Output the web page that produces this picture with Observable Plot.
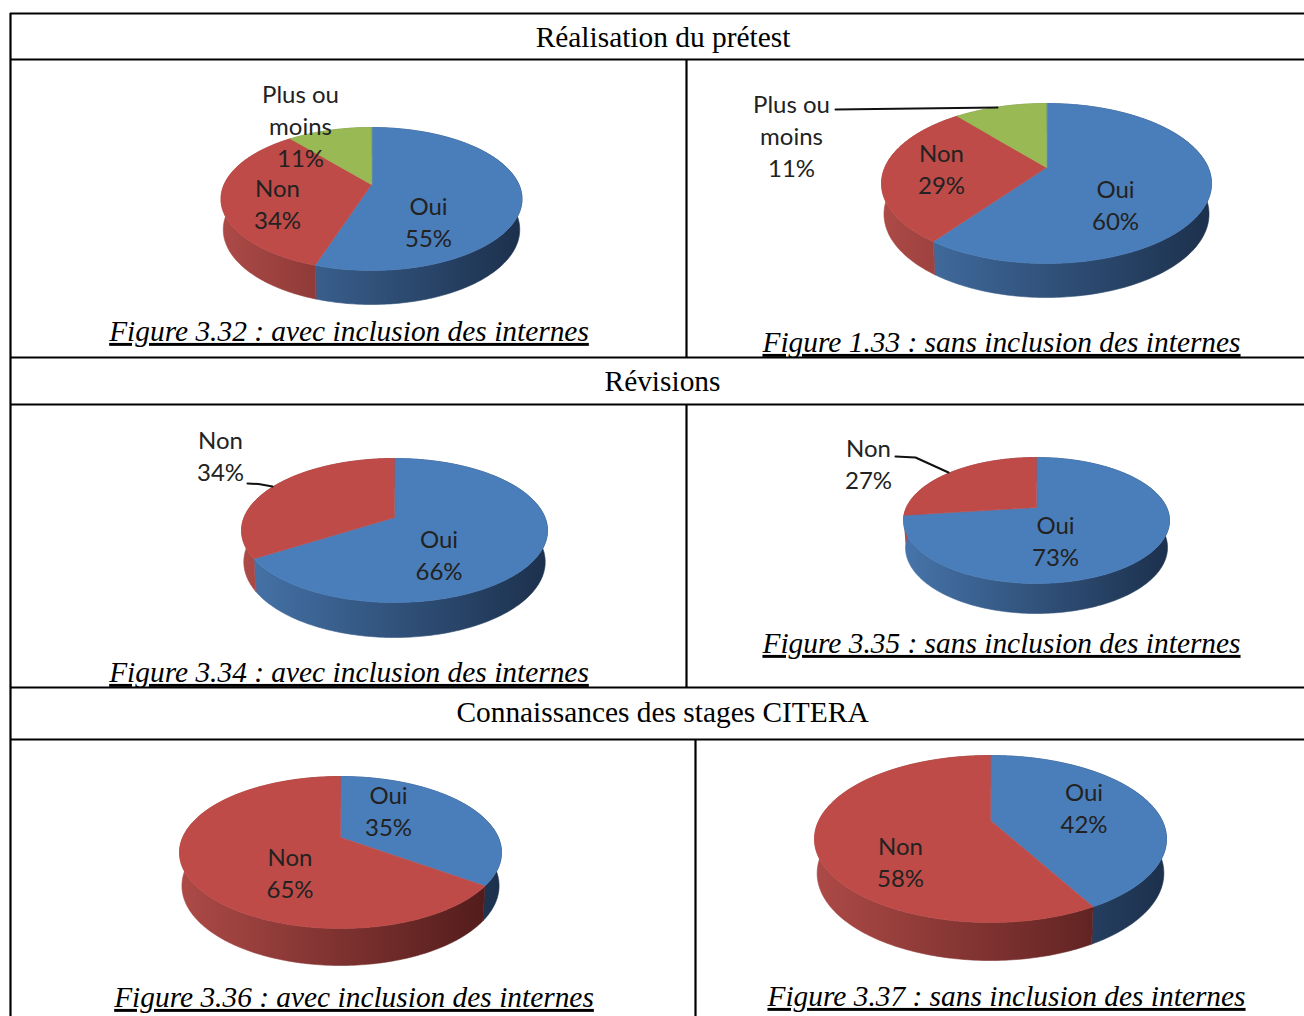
<!DOCTYPE html>
<html lang="fr">
<head>
<meta charset="utf-8">
<script src="https://cdn.jsdelivr.net/npm/d3@7"></script>
<script src="https://cdn.jsdelivr.net/npm/@observablehq/plot@0.6"></script>
<style>
html,body{margin:0;padding:0;background:#fff}
svg{display:block}
.caption text{text-decoration:underline}
</style>
</head>
<body>
<div id="chart"></div>
<script>
// ---- data ----
const sections = ["Réalisation du prétest", "Révisions", "Connaissances des stages CITERA"];
const captions = [
  "Figure 3.32 : avec inclusion des internes",
  "Figure 1.33 : sans inclusion des internes",
  "Figure 3.34 : avec inclusion des internes",
  "Figure 3.35 : sans inclusion des internes",
  "Figure 3.36 : avec inclusion des internes",
  "Figure 3.37 : sans inclusion des internes"
];
const categories = ["Oui", "Non", "Plus ou\nmoins"];
const values = [
  [55, 34, 11],
  [60, 29, 11],
  [66, 34],
  [73, 27],
  [35, 65],
  [42, 58]
];

// ---- layout (not data) ----
const colors = ["#4a7ebb", "#be4b48", "#98b954"];
const wallLight = ["#4674aa", "#ad4a47", "#8aa84f"];
const wallDark = ["#1c304c", "#4e1a19", "#4c5c2a"];
const pies = [
  {cx: 370.5, ax: 371,  ay: 184, top: 127, bottom: 270, rx: 150.5, base: 304},
  {cx: 1046,  ax: 1046, ay: 167, top: 103, bottom: 263, rx: 165,   base: 297},
  {cx: 394,   ax: 394,  ay: 517, top: 458, bottom: 602, rx: 153,   base: 637},
  {cx: 1036,  ax: 1036, ay: 507, top: 457, bottom: 583, rx: 133,   base: 613},
  {cx: 340,   ax: 340,  ay: 837, top: 776, bottom: 928, rx: 161,   base: 965},
  {cx: 989,   ax: 990,  ay: 820, top: 755, bottom: 922, rx: 176,   base: 960}
];
// centre of each slice label, in the order of the values
const labelPos = [
  [[428, 220.5], [277, 202.5], [300, 124]],
  [[1115, 203.5], [941, 167.5], [791, 134]],
  [[438.5, 553.5], [220, 454.5]],
  [[1055, 539.5], [868, 462.5]],
  [[388, 809.5], [289.5, 871.5]],
  [[1083.5, 806.5], [900, 860.5]]
];
const captionPos = [[348.5, 331], [1001, 342], [348.5, 672], [1001, 643], [353.5, 997], [1006, 996]];
const sectionPos = [[662.5, 37], [662, 381], [662, 712]];
const hRules = [13, 59, 357, 404, 687, 739];
const vRules = [[10, 13, 1016], [686, 59, 357], [686, 404, 687], [695, 739, 1016]];
const leaders = [
  [[835, 109], [997, 107]],
  [[247, 483], [258, 483.5], [272, 486]],
  [[895, 456], [915, 457], [948, 472]]
];

// ---- perspective projection of a pie disc ----
function projector(p) {
  const a = p.ay - p.top, b = p.bottom - p.ay;
  const k = (b - a) / (b + a);
  const S = a * (1 + k), R = p.rx * Math.sqrt(1 - k * k);
  const df = p.base - p.bottom;
  const D = 0.88 * df, ky = 1 + 0.12 * df / b, kx = 0.985;
  const at = (t, lower) => {
    const u = Math.sin(t), v = -Math.cos(t), w = 1 - k * v;
    return lower
      ? {x: p.ax + kx * R * u / w, y: p.ay + D + ky * S * v / w}
      : {x: p.ax + R * u / w, y: p.ay + S * v / w};
  };
  return at;
}
const arcAngles = (t0, t1) => {
  const n = Math.max(2, Math.ceil((t1 - t0) / (Math.PI / 180)));
  return d3.range(n + 1).map((i) => t0 + (t1 - t0) * i / n);
};

const polygons = [[], []]; // walls, top faces
const gradients = [];
values.forEach((vals, pi) => {
  const p = pies[pi], at = projector(p);
  const arcs = d3.pie().sort(null)(vals);
  arcs.forEach((arc, si) => {
    const ts = arcAngles(arc.startAngle, arc.endAngle);
    const id = `wall-${pi}-${si}`;
    gradients.push({id, x1: p.cx - p.rx, x2: p.cx + p.rx, si});
    polygons[0].push({
      fill: `url(#${id})`,
      pts: [...ts.map((t) => at(t, false)), ...ts.slice().reverse().map((t) => at(t, true))]
    });
    polygons[1].push({
      fill: colors[si],
      pts: [{x: p.ax, y: p.ay}, ...ts.map((t) => at(t, false))]
    });
  });
});

const labels = values.flatMap((vals, pi) =>
  vals.map((v, si) => ({
    text: `${categories[si]}\n${v}%`,
    x: labelPos[pi][si][0],
    y: labelPos[pi][si][1]
  }))
);

const gradientDefs = () => {
  const defs = d3.create("svg:defs");
  gradients.forEach((g) => {
    const lg = defs.append("linearGradient")
      .attr("id", g.id).attr("gradientUnits", "userSpaceOnUse")
      .attr("x1", g.x1).attr("x2", g.x2).attr("y1", 0).attr("y2", 0);
    lg.append("stop").attr("offset", 0).attr("stop-color", wallLight[g.si]);
    lg.append("stop").attr("offset", 1).attr("stop-color", wallDark[g.si]);
  });
  return defs.node();
};

const poly = (d) => Plot.line(d.pts, {
  x: "x", y: "y", curve: "linear-closed", fill: d.fill, stroke: d.fill, strokeWidth: 0.6
});

const serif = "'Liberation Serif', 'Times New Roman', serif";
const sans = "Lato, Carlito, Calibri, sans-serif";

const chart = Plot.plot({
  width: 1304,
  height: 1016,
  margin: 0,
  style: {background: "#fff"},
  x: {domain: [0, 1304], range: [0, 1304], axis: null},
  y: {domain: [0, 1016], range: [0, 1016], axis: null},
  marks: [
    gradientDefs,
    ...polygons[0].map(poly),
    ...polygons[1].map(poly),
    ...leaders.map((l) => Plot.line(l, {x: (d) => d[0], y: (d) => d[1], stroke: "#111", strokeWidth: 2, curve: "linear"})),
    Plot.text(labels, {
      x: "x", y: "y", text: "text", fontFamily: sans, fontSize: 24, lineHeight: 1.34,
      fill: "#222", textAnchor: "middle"
    }),
    Plot.ruleY(hRules, {y: (d) => d, x1: 10, x2: 1304, stroke: "#000", strokeWidth: 2.2}),
    Plot.ruleX(vRules, {x: (d) => d[0], y1: (d) => d[1], y2: (d) => d[2], stroke: "#000", strokeWidth: 2.2}),
    Plot.text(sections, {
      x: (d, i) => sectionPos[i][0], y: (d, i) => sectionPos[i][1], text: (d) => d,
      fontFamily: serif, fontSize: 29.4, fill: "#000", textAnchor: "middle"
    }),
    Plot.text(captions, {
      x: (d, i) => captionPos[i][0], y: (d, i) => captionPos[i][1], text: (d) => d,
      fontFamily: serif, fontSize: 29.4, fontStyle: "italic", fill: "#000", textAnchor: "middle",
      className: "caption"
    })
  ]
});
document.getElementById("chart").append(chart);
</script>
</body>
</html>
